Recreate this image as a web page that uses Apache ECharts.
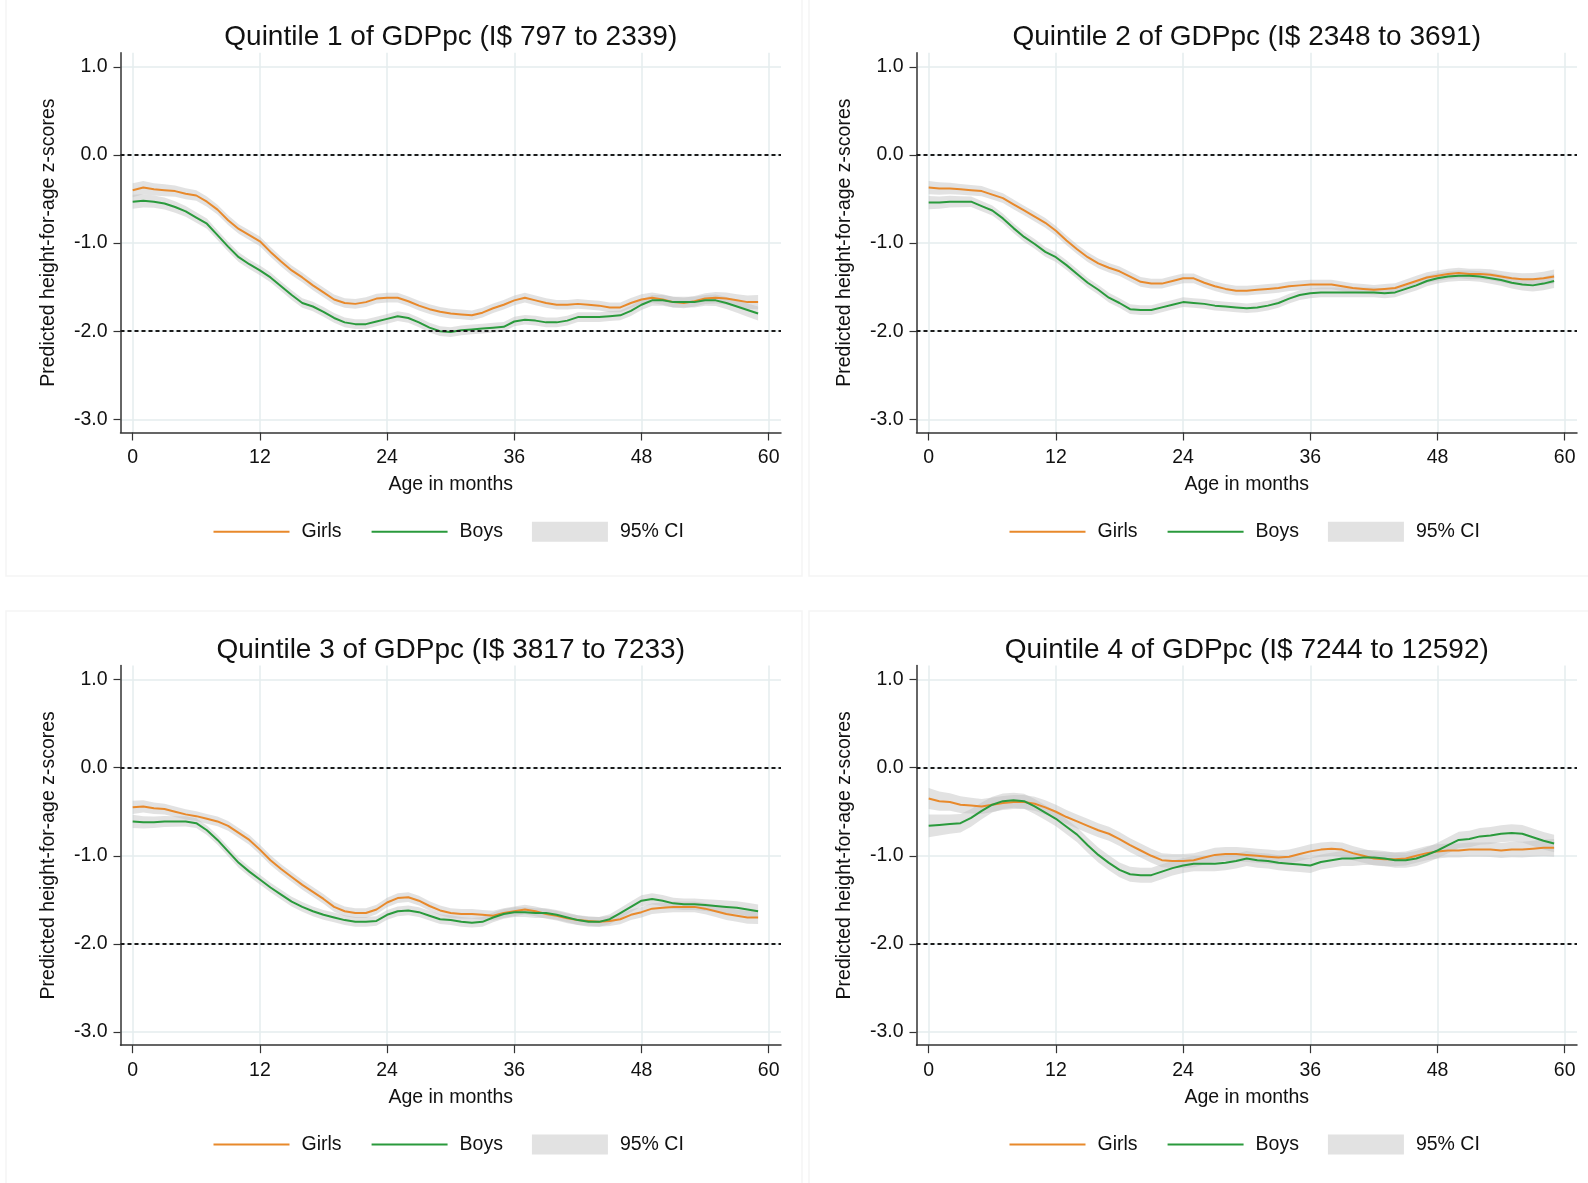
<!DOCTYPE html>
<html>
<head>
<meta charset="utf-8">
<script src="https://cdn.jsdelivr.net/npm/echarts@6/dist/echarts.min.js"></script>
<style>
html,body{margin:0;padding:0;background:#fff;}
#chart{width:1588px;height:1183px;}
</style>
</head>
<body>
<div id="chart"></div>
<script>
const months = [0,1,2,3,4,5,6,7,8,9,10,11,12,13,14,15,16,17,18,19,20,21,22,23,24,25,26,27,28,29,30,31,32,33,34,35,36,37,38,39,40,41,42,43,44,45,46,47,48,49,50,51,52,53,54,55,56,57,58,59];
const xTicks = [0,12,24,36,48,60];
const yTicks = [-3,-2,-1,0,1];
const refLines = [0,-2];

const panelTitles = [
  'Quintile 1 of GDPpc (I$ 797 to 2339)',
  'Quintile 2 of GDPpc (I$ 2348 to 3691)',
  'Quintile 3 of GDPpc (I$ 3817 to 7233)',
  'Quintile 4 of GDPpc (I$ 7244 to 12592)'
];

const q1Girls = [-0.40,-0.37,-0.39,-0.40,-0.41,-0.44,-0.46,-0.53,-0.62,-0.74,-0.84,-0.91,-0.98,-1.10,-1.21,-1.31,-1.39,-1.48,-1.56,-1.64,-1.68,-1.69,-1.67,-1.63,-1.62,-1.62,-1.66,-1.71,-1.75,-1.78,-1.80,-1.81,-1.82,-1.79,-1.74,-1.70,-1.65,-1.62,-1.65,-1.68,-1.70,-1.70,-1.69,-1.70,-1.71,-1.73,-1.73,-1.68,-1.64,-1.62,-1.64,-1.67,-1.68,-1.66,-1.63,-1.62,-1.63,-1.65,-1.67,-1.67];
const q1Boys = [-0.53,-0.52,-0.53,-0.55,-0.59,-0.64,-0.71,-0.78,-0.91,-1.04,-1.16,-1.24,-1.31,-1.39,-1.49,-1.59,-1.68,-1.72,-1.78,-1.85,-1.90,-1.92,-1.92,-1.89,-1.86,-1.83,-1.85,-1.90,-1.96,-2.00,-2.01,-1.99,-1.98,-1.97,-1.96,-1.95,-1.89,-1.87,-1.88,-1.90,-1.90,-1.88,-1.84,-1.84,-1.84,-1.83,-1.82,-1.77,-1.70,-1.65,-1.65,-1.67,-1.67,-1.67,-1.65,-1.65,-1.68,-1.72,-1.76,-1.80];
const q1GirlsCI = [0.080,0.075,0.070,0.068,0.065,0.062,0.060,0.058,0.056,0.055,0.055,0.055,0.055,0.055,0.055,0.055,0.055,0.055,0.055,0.055,0.055,0.055,0.055,0.055,0.055,0.055,0.055,0.055,0.055,0.055,0.055,0.055,0.055,0.055,0.055,0.055,0.055,0.055,0.055,0.055,0.055,0.055,0.055,0.055,0.055,0.055,0.056,0.058,0.060,0.060,0.060,0.060,0.060,0.060,0.062,0.065,0.068,0.070,0.075,0.080];
const q1BoysCI = [0.080,0.075,0.070,0.068,0.065,0.062,0.060,0.058,0.056,0.055,0.055,0.055,0.055,0.055,0.055,0.055,0.055,0.055,0.055,0.055,0.055,0.055,0.055,0.055,0.055,0.055,0.055,0.055,0.055,0.055,0.055,0.055,0.055,0.055,0.055,0.055,0.055,0.055,0.055,0.055,0.055,0.055,0.055,0.055,0.055,0.055,0.056,0.058,0.060,0.060,0.060,0.060,0.060,0.060,0.062,0.065,0.068,0.070,0.075,0.080];

const q2Girls = [-0.37,-0.38,-0.38,-0.39,-0.40,-0.41,-0.45,-0.49,-0.56,-0.63,-0.70,-0.77,-0.86,-0.97,-1.07,-1.16,-1.23,-1.28,-1.32,-1.38,-1.44,-1.46,-1.46,-1.43,-1.40,-1.40,-1.45,-1.49,-1.52,-1.54,-1.54,-1.53,-1.52,-1.51,-1.49,-1.48,-1.47,-1.47,-1.47,-1.49,-1.51,-1.52,-1.53,-1.52,-1.51,-1.47,-1.43,-1.39,-1.37,-1.35,-1.34,-1.35,-1.35,-1.36,-1.38,-1.40,-1.41,-1.41,-1.40,-1.38];
const q2Boys = [-0.54,-0.54,-0.53,-0.53,-0.53,-0.58,-0.63,-0.72,-0.83,-0.93,-1.01,-1.10,-1.16,-1.25,-1.35,-1.45,-1.53,-1.62,-1.68,-1.75,-1.76,-1.76,-1.73,-1.70,-1.67,-1.68,-1.69,-1.71,-1.72,-1.73,-1.74,-1.73,-1.71,-1.68,-1.63,-1.59,-1.57,-1.56,-1.56,-1.56,-1.56,-1.56,-1.56,-1.57,-1.56,-1.52,-1.48,-1.43,-1.40,-1.38,-1.37,-1.37,-1.38,-1.40,-1.42,-1.45,-1.47,-1.48,-1.46,-1.43];
const q2GirlsCI = [0.075,0.070,0.066,0.062,0.060,0.058,0.056,0.055,0.055,0.055,0.055,0.055,0.055,0.055,0.055,0.055,0.055,0.055,0.055,0.055,0.055,0.055,0.055,0.055,0.055,0.055,0.055,0.055,0.055,0.055,0.055,0.055,0.055,0.055,0.055,0.055,0.055,0.055,0.055,0.055,0.055,0.055,0.055,0.055,0.055,0.056,0.058,0.060,0.060,0.060,0.060,0.060,0.060,0.062,0.064,0.066,0.068,0.070,0.075,0.080];
const q2BoysCI = [0.075,0.070,0.066,0.062,0.060,0.058,0.056,0.055,0.055,0.055,0.055,0.055,0.055,0.055,0.055,0.055,0.055,0.055,0.055,0.055,0.055,0.055,0.055,0.055,0.055,0.055,0.055,0.055,0.055,0.055,0.055,0.055,0.055,0.055,0.055,0.055,0.055,0.055,0.055,0.055,0.055,0.055,0.055,0.055,0.055,0.056,0.058,0.060,0.060,0.060,0.060,0.060,0.060,0.062,0.064,0.066,0.068,0.070,0.075,0.080];

const q3Girls = [-0.45,-0.44,-0.46,-0.47,-0.50,-0.53,-0.55,-0.58,-0.61,-0.66,-0.74,-0.82,-0.93,-1.05,-1.15,-1.24,-1.33,-1.41,-1.49,-1.58,-1.63,-1.65,-1.65,-1.61,-1.53,-1.48,-1.47,-1.51,-1.57,-1.62,-1.65,-1.66,-1.66,-1.67,-1.68,-1.65,-1.63,-1.61,-1.63,-1.66,-1.68,-1.71,-1.73,-1.74,-1.75,-1.74,-1.72,-1.67,-1.64,-1.60,-1.59,-1.58,-1.58,-1.58,-1.60,-1.63,-1.66,-1.68,-1.70,-1.70];
const q3Boys = [-0.61,-0.62,-0.62,-0.61,-0.61,-0.61,-0.63,-0.71,-0.82,-0.95,-1.08,-1.18,-1.27,-1.36,-1.44,-1.52,-1.58,-1.63,-1.67,-1.70,-1.73,-1.75,-1.75,-1.74,-1.67,-1.63,-1.62,-1.64,-1.68,-1.72,-1.73,-1.75,-1.76,-1.75,-1.70,-1.66,-1.64,-1.64,-1.65,-1.65,-1.67,-1.70,-1.73,-1.75,-1.75,-1.72,-1.65,-1.58,-1.51,-1.49,-1.51,-1.54,-1.55,-1.55,-1.56,-1.57,-1.58,-1.59,-1.61,-1.63];
const q3GirlsCI = [0.075,0.070,0.066,0.062,0.060,0.058,0.056,0.055,0.055,0.055,0.055,0.055,0.055,0.055,0.055,0.055,0.055,0.055,0.055,0.055,0.055,0.055,0.055,0.055,0.055,0.055,0.055,0.055,0.055,0.055,0.055,0.055,0.055,0.055,0.055,0.055,0.055,0.055,0.055,0.055,0.055,0.055,0.055,0.055,0.055,0.056,0.058,0.060,0.060,0.060,0.060,0.060,0.060,0.062,0.064,0.066,0.068,0.070,0.072,0.075];
const q3BoysCI = [0.075,0.070,0.066,0.062,0.060,0.058,0.056,0.055,0.055,0.055,0.055,0.055,0.055,0.055,0.055,0.055,0.055,0.055,0.055,0.055,0.055,0.055,0.055,0.055,0.055,0.055,0.055,0.055,0.055,0.055,0.055,0.055,0.055,0.055,0.055,0.055,0.055,0.055,0.055,0.055,0.055,0.055,0.055,0.055,0.055,0.056,0.058,0.060,0.062,0.064,0.064,0.064,0.064,0.066,0.068,0.070,0.072,0.074,0.076,0.078];

const q4Girls = [-0.35,-0.38,-0.39,-0.42,-0.43,-0.44,-0.42,-0.40,-0.39,-0.39,-0.41,-0.45,-0.50,-0.56,-0.61,-0.66,-0.71,-0.75,-0.81,-0.88,-0.94,-1.00,-1.05,-1.06,-1.06,-1.05,-1.02,-0.99,-0.98,-0.98,-0.99,-1.00,-1.01,-1.02,-1.01,-0.98,-0.95,-0.93,-0.92,-0.93,-0.97,-1.00,-1.03,-1.04,-1.04,-1.03,-1.00,-0.97,-0.95,-0.94,-0.94,-0.93,-0.93,-0.93,-0.94,-0.93,-0.93,-0.92,-0.91,-0.91];
const q4Boys = [-0.66,-0.65,-0.64,-0.63,-0.57,-0.49,-0.42,-0.38,-0.37,-0.38,-0.44,-0.51,-0.58,-0.67,-0.76,-0.88,-0.99,-1.08,-1.16,-1.21,-1.22,-1.22,-1.18,-1.14,-1.11,-1.09,-1.09,-1.09,-1.08,-1.06,-1.03,-1.05,-1.06,-1.08,-1.09,-1.10,-1.11,-1.07,-1.05,-1.03,-1.03,-1.02,-1.02,-1.03,-1.05,-1.05,-1.03,-0.99,-0.94,-0.88,-0.82,-0.81,-0.78,-0.77,-0.75,-0.74,-0.75,-0.79,-0.83,-0.86];
const q4GirlsCI = [0.120,0.110,0.100,0.095,0.090,0.085,0.082,0.080,0.080,0.080,0.080,0.080,0.080,0.080,0.080,0.080,0.080,0.080,0.080,0.080,0.080,0.080,0.080,0.080,0.080,0.080,0.080,0.080,0.080,0.080,0.080,0.080,0.080,0.080,0.080,0.080,0.080,0.080,0.080,0.080,0.080,0.080,0.080,0.080,0.080,0.080,0.080,0.080,0.080,0.080,0.080,0.080,0.082,0.084,0.086,0.088,0.090,0.092,0.095,0.100];
const q4BoysCI = [0.130,0.120,0.110,0.105,0.100,0.095,0.090,0.088,0.086,0.085,0.085,0.085,0.085,0.085,0.085,0.085,0.085,0.085,0.085,0.085,0.085,0.085,0.085,0.085,0.085,0.085,0.085,0.085,0.085,0.085,0.085,0.085,0.085,0.085,0.085,0.085,0.085,0.085,0.085,0.085,0.085,0.085,0.085,0.085,0.085,0.085,0.085,0.086,0.088,0.090,0.092,0.094,0.095,0.096,0.097,0.098,0.099,0.100,0.100,0.100];

const panels = [
  {title: panelTitles[0], girls: q1Girls, boys: q1Boys, girlsCI: q1GirlsCI, boysCI: q1BoysCI},
  {title: panelTitles[1], girls: q2Girls, boys: q2Boys, girlsCI: q2GirlsCI, boysCI: q2BoysCI},
  {title: panelTitles[2], girls: q3Girls, boys: q3Boys, girlsCI: q3GirlsCI, boysCI: q3BoysCI},
  {title: panelTitles[3], girls: q4Girls, boys: q4Boys, girlsCI: q4GirlsCI, boysCI: q4BoysCI}
];

// ---- layout / style ----
const FONT = "'Liberation Sans', Arial, sans-serif";
const GIRLS_COLOR = '#e8892b';
const BOYS_COLOR = '#2a9a3c';
const BAND_COLOR = 'rgba(190,190,190,0.45)';
const AXIS_COLOR = '#333';
const GRID_COLOR = '#e4ecee';
const gridPos = [
  {left: 120.5, top: 52.7},
  {left: 916.5, top: 52.7},
  {left: 120.5, top: 665.4},
  {left: 916.5, top: 665.4}
];
const GRID_W = 660.5, GRID_H = 379.8;

const option = {
  backgroundColor: '#fff',
  animation: false,
  textStyle: {fontFamily: FONT},
  title: [], grid: [], xAxis: [], yAxis: [], series: [], legend: [],
  graphic: [
    {type: 'rect', shape: {x: 6, y: -2, width: 796, height: 578}, style: {fill: 'none', stroke: '#f5f5f5', lineWidth: 1.5}, silent: true},
    {type: 'rect', shape: {x: 809, y: -2, width: 785, height: 578}, style: {fill: 'none', stroke: '#f5f5f5', lineWidth: 1.5}, silent: true},
    {type: 'rect', shape: {x: 6, y: 611, width: 796, height: 580}, style: {fill: 'none', stroke: '#f5f5f5', lineWidth: 1.5}, silent: true},
    {type: 'rect', shape: {x: 809, y: 611, width: 785, height: 580}, style: {fill: 'none', stroke: '#f5f5f5', lineWidth: 1.5}, silent: true}
  ]
};

function pairs(xs, ys) { return xs.map((x, i) => [x, ys[i]]); }

// CI band drawn as one polygon through the axes' own coordinate mapping
function bandSeries(k, values, halfWidths) {
  const data = months.map((m, i) => [m, values[i] - halfWidths[i], values[i] + halfWidths[i]]);
  return {
    type: 'custom', name: '95% CI', xAxisIndex: k, yAxisIndex: k,
    data: data, encode: {x: 0, y: [1, 2]}, silent: true, z: 1, clip: true,
    itemStyle: {color: '#e2e2e2'},
    renderItem: function (params, api) {
      if (params.dataIndex !== 0) return null;
      const upper = data.map(d => api.coord([d[0], d[2]]));
      const lower = data.map(d => api.coord([d[0], d[1]])).reverse();
      return {
        type: 'polygon',
        shape: {points: upper.concat(lower)},
        style: {fill: BAND_COLOR, stroke: 'none'}
      };
    }
  };
}

panels.forEach((p, k) => {
  const g = gridPos[k];
  option.grid.push({left: g.left, top: g.top, width: GRID_W, height: GRID_H, containLabel: false});
  option.title.push({
    text: p.title, left: g.left + GRID_W / 2, top: g.top - 29, textAlign: 'center', padding: 0,
    textStyle: {fontFamily: FONT, fontSize: 28, fontWeight: 'normal', color: '#111'}
  });
  option.xAxis.push({
    type: 'value', gridIndex: k, min: -1.15, max: 61.16,
    name: 'Age in months', nameLocation: 'middle', nameGap: 42,
    nameTextStyle: {fontFamily: FONT, fontSize: 19.5, color: '#111'},
    axisLine: {show: true, onZero: false, lineStyle: {color: AXIS_COLOR, width: 1.5}},
    axisTick: {show: true, length: 8, customValues: xTicks, lineStyle: {color: AXIS_COLOR, width: 1.2}},
    axisLabel: {customValues: xTicks, margin: 15, fontFamily: FONT, fontSize: 19.5, color: '#111'},
    splitLine: {show: true, lineStyle: {color: GRID_COLOR, width: 1.5}}
  });
  option.yAxis.push({
    type: 'value', gridIndex: k, min: -3.15, max: 1.161,
    name: 'Predicted height-for-age z-scores', nameLocation: 'middle', nameGap: 62,
    nameTextStyle: {fontFamily: FONT, fontSize: 19.5, color: '#111'},
    axisLine: {show: true, onZero: false, lineStyle: {color: AXIS_COLOR, width: 1.5}},
    axisTick: {show: true, length: 7, customValues: yTicks, lineStyle: {color: AXIS_COLOR, width: 1.2}},
    axisLabel: {customValues: yTicks, margin: 13, fontFamily: FONT, fontSize: 19.5, color: '#111',
      formatter: v => v.toFixed(1)},
    splitLine: {show: true, lineStyle: {color: GRID_COLOR, width: 1.5}}
  });

  option.series.push(bandSeries(k, p.girls, p.girlsCI));
  option.series.push(bandSeries(k, p.boys, p.boysCI));

  option.series.push({
    type: 'line', name: 'Girls', xAxisIndex: k, yAxisIndex: k,
    data: pairs(months, p.girls), symbol: 'none',
    lineStyle: {color: GIRLS_COLOR, width: 2}, itemStyle: {color: GIRLS_COLOR}, z: 3,
    markLine: {
      silent: true, symbol: 'none', label: {show: false},
      lineStyle: {color: '#1a1a1a', type: [4, 3], width: 2},
      data: refLines.map(v => ({yAxis: v}))
    }
  });
  option.series.push({
    type: 'line', name: 'Boys', xAxisIndex: k, yAxisIndex: k,
    data: pairs(months, p.boys), symbol: 'none',
    lineStyle: {color: BOYS_COLOR, width: 2}, itemStyle: {color: BOYS_COLOR}, z: 3
  });

  option.legend.push({
    left: g.left + 92, top: g.top + 469, orient: 'horizontal',
    itemWidth: 76, itemHeight: 20, itemGap: 29, selectedMode: false, padding: 0,
    textStyle: {fontFamily: FONT, fontSize: 19.5, color: '#111', padding: [0, 0, 0, 7]},
    data: [
      {name: 'Girls', itemStyle: {opacity: 0}},
      {name: 'Boys', itemStyle: {opacity: 0}},
      {name: '95% CI', icon: 'rect', itemStyle: {color: '#e2e2e2', opacity: 1}}
    ]
  });
});

const chart = echarts.init(document.getElementById('chart'), null, {renderer: 'canvas'});
chart.setOption(option);
</script>
</body>
</html>
